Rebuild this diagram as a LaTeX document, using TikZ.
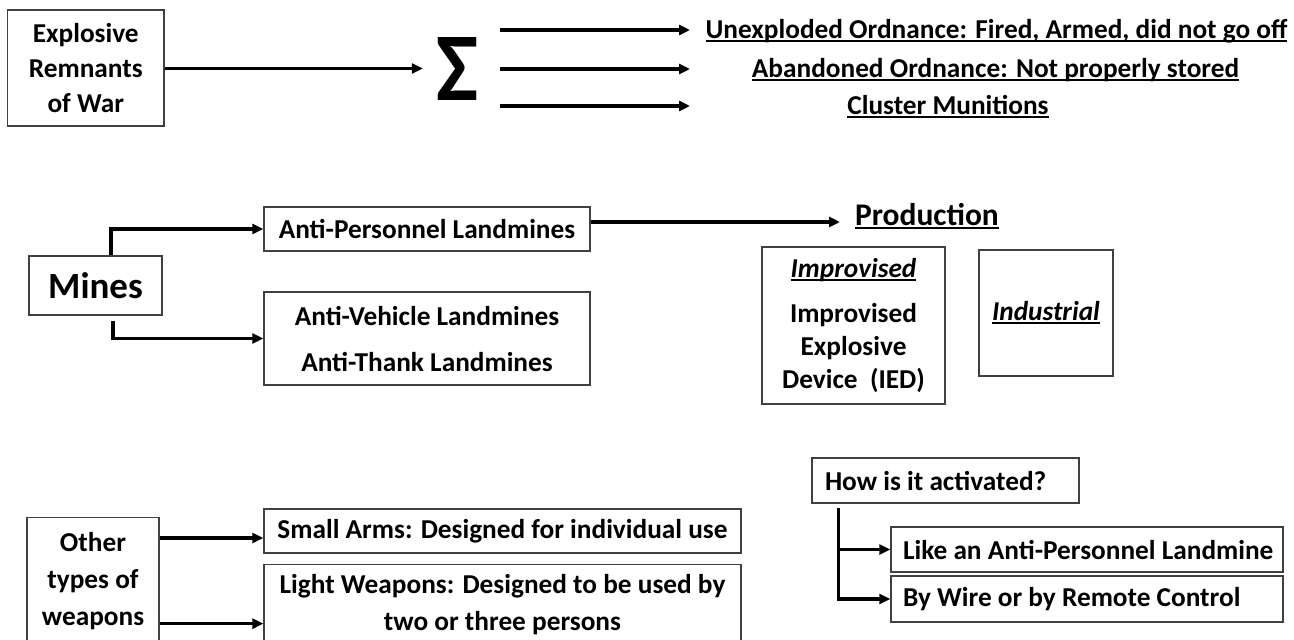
\documentclass[tikz,border=0pt]{standalone}
\usepackage{fontspec}
\setmainfont{Carlito}
\usepackage{graphicx}
\usetikzlibrary{arrows.meta}
\definecolor{boxgray}{RGB}{64,64,64}
\newcommand\myul[1]{\leavevmode\setbox0=\hbox{#1}\rlap{\rule[-0.13em]{\wd0}{0.07em}}\box0}
\newcommand\ftxt{\fontsize{27.3pt}{35pt}\selectfont\bfseries}
\begin{document}
\begin{tikzpicture}[x=1pt,y=-1pt,
  box/.style={draw=boxgray,line width=1.3pt,rectangle,inner sep=0pt,align=center,font=\ftxt},
  lbox/.style={box,align=left,inner xsep=13pt},
  arr/.style={line width=3.2pt,-{Triangle[length=11pt,width=10pt]}},
  lbl/.style={font=\ftxt,inner sep=0pt,anchor=base}]
\useasboundingbox (0,0) rectangle (1294,640);
\clip (0,0) rectangle (1294,640);

% --- Explosive remnants of war
\node[box,minimum width=156.5pt,minimum height=116pt] (erw) at (85.75,68) {Explosive\\Remnants\\of War};
\node[inner sep=0pt] (sigma) at (458,68.5) {\resizebox{42pt}{63pt}{\bfseries Σ}};
\draw[arr,shorten >=14pt] (erw.east |- sigma) -- (sigma.west);
\coordinate (a1s) at (500,30);  \coordinate (a1e) at (690,30);
\coordinate (a2s) at (500,69);  \coordinate (a2e) at (690,69);
\coordinate (a3s) at (500,106); \coordinate (a3e) at (690,106);
\draw[arr] (a1s) -- (a1e);
\draw[arr] (a2s) -- (a2e);
\draw[arr] (a3s) -- (a3e);
\node[lbl] (t1) at (996.5,38) {\myul{Unexploded Ordnance: Fired, Armed, did not go off}};
\node[lbl] (t2) at (995.5,77) {\myul{Abandoned Ordnance: Not properly stored}};
\node[lbl] (t3) at (948,114) {\myul{Cluster Munitions}};

% --- Mines
\node[box,minimum width=133pt,minimum height=59pt,font=\fontsize{37pt}{40pt}\selectfont\bfseries] (mines) at (95.5,285.5) {Mines};
\node[box,minimum width=326pt,minimum height=44pt] (ap) at (427,229) {Anti-Personnel Landmines};
\node[box,minimum width=326pt,minimum height=93pt] (av) at (427,338.5) {Anti-Vehicle Landmines\\[11pt]Anti-Thank Landmines};
\draw[arr] ([xshift=15.5pt]mines.north) |- (ap.west);
\draw[arr] ([xshift=17.5pt,yshift=-5pt]mines.south) |- (av.west);

\coordinate (pa) at (840,222);
\draw[arr] (ap.east |- pa) -- (pa);
\node[lbl,font=\fontsize{31.5pt}{36pt}\selectfont\bfseries] (prod) at (927,225) {\myul{Production}};

\node[box,minimum width=183pt,minimum height=157pt,font=\fontsize{27.3pt}{33pt}\selectfont\bfseries] (impr) at (853.5,325.5) {\myul{\itshape Improvised}\\[12pt]Improvised\\Explosive\\Device\ \ (IED)};
\node[box,minimum width=134pt,minimum height=126pt] (ind) at (1046,313) {\myul{\itshape Industrial}};

% --- Other types of weapons
\node[box,anchor=north,minimum width=132pt,minimum height=126pt,font=\fontsize{27.3pt}{37pt}\selectfont\bfseries] (other) at (93,517) {Other\\types of\\weapons};
\node[box,minimum width=477pt,minimum height=44pt] (sa) at (502.5,531) {Small Arms: Designed for individual use};
\node[box,anchor=north,minimum width=477pt,minimum height=79pt,font=\fontsize{27.3pt}{37pt}\selectfont\bfseries] (lw) at (502.5,564) {Light Weapons: Designed to be used by\\two or three persons};
\coordinate (sain) at ([yshift=-7pt]sa.west);
\coordinate (lwin) at ([yshift=-19.5pt]lw.west);
\draw[arr] (other.east |- sain) -- (sain);
\draw[arr] (other.east |- lwin) -- (lwin);

% --- Activation
\node[lbox,text width=241pt,minimum height=45pt] (how) at (945.5,480.5) {\spaceskip=0pt\xspaceskip=0pt\mbox{How is it activated?}};
\node[lbox,inner xsep=12pt,text width=368pt,minimum height=45pt] (lap) at (1087,549.5) {\spaceskip=0pt\xspaceskip=0pt\mbox{Like an Anti-Personnel Landmine}};
\node[lbox,inner xsep=12pt,text width=368pt,minimum height=46pt] (bw) at (1087,599) {\spaceskip=0pt\xspaceskip=0pt\mbox{By Wire or by Remote Control}};
\draw[arr] ([xshift=27pt,yshift=-4pt]how.south west) |- (lap.west);
\draw[arr] ([xshift=27pt,yshift=-4pt]how.south west) |- (bw.west);
\end{tikzpicture}
\end{document}
